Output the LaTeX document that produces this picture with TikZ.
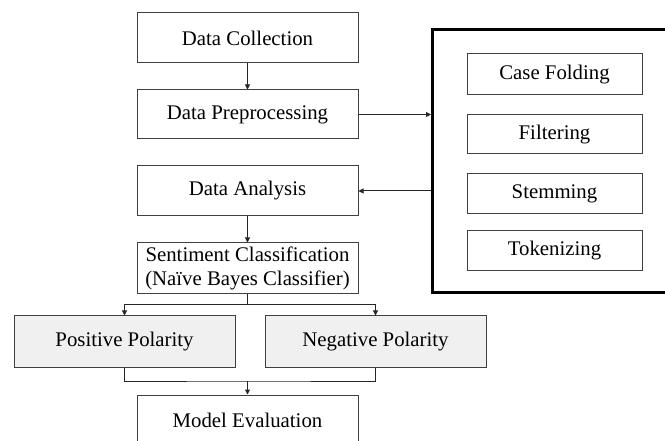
\documentclass[tikz,border=0pt]{standalone}
\usepackage{fontspec}
\setmainfont{Liberation Serif}
\usetikzlibrary{arrows.meta}
\begin{document}
\begin{tikzpicture}[x=1pt,y=-1pt,
  box/.style={draw=black!75,line width=1pt,rectangle,minimum width=221pt,inner sep=0pt,align=center,font=\fontsize{20.8}{23.5}\selectfont},
  gbox/.style={box,fill=black!6},
  sbox/.style={draw=black!75,line width=1pt,rectangle,minimum width=175pt,inner sep=0pt,font=\fontsize{20.8}{24}\selectfont},
  conn/.style={draw=black!85,line width=1pt},
  arr/.style={conn,-{Triangle[length=5pt,width=5pt]}}]
\useasboundingbox (0,0) rectangle (665,441);
\clip (0,0) rectangle (665,441);
\node[box,minimum height=50pt] (dc) at (247.5,38) {Data Collection};
\node[box,minimum height=49pt] (dp) at (247.5,114.5) {Data Preprocessing};
\node[box,minimum height=50pt] (da) at (247.5,191) {Data Analysis};
\node[box,minimum height=51pt] (sc) at (247.5,268.5) {Sentiment Classification\\(Naïve Bayes Classifier)};
\node[gbox,minimum height=51pt] (pp) at (124.5,341.5) {Positive Polarity};
\node[gbox,minimum height=51pt] (np) at (375.5,341.5) {Negative Polarity};
\node[box,minimum height=50pt] (me) at (247.5,420) {Model Evaluation};
\node[draw=black,line width=3pt,rectangle,minimum width=249pt,minimum height=263pt,inner sep=0pt] (prep) at (557,161.5) {};
\node[sbox,minimum height=41pt] (cf) at (554.5,74.5) {Case Folding};
\node[sbox,minimum height=39pt] (fi) at (554.5,134.5) {Filtering};
\node[sbox,minimum height=40pt] (st) at (554.5,194) {Stemming};
\node[sbox,minimum height=40pt] (tk) at (554.5,251) {Tokenizing};
\coordinate (s1) at (247.5,305);
\coordinate (j) at (247.5,381);
\draw[arr] (dc) -- (dp);
\draw[arr] (dp.east) -- (dp.east -| prep.west);
\draw[arr] (prep.west |- da.east) -- (da.east);
\draw[arr] (da) -- (sc);
\draw[conn] (sc.south) -- (s1);
\draw[arr] (s1) -| (pp.north);
\draw[arr] (s1) -| (np.north);
\draw[conn] (pp.south) |- (j) -| (np.south);
\draw[arr] (j) -- (me.north);
\end{tikzpicture}
\end{document}
